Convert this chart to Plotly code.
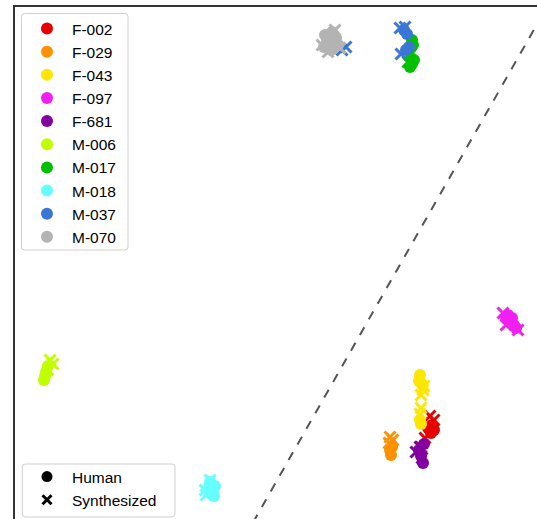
import plotly.graph_objects as go

speakers = ["F-002", "F-029", "F-043", "F-097", "F-681", "M-006", "M-017", "M-018", "M-037", "M-070"]
colors = ["#e60000", "#ff9100", "#ffe600", "#f020f0", "#8200a0", "#c0ff00", "#00c000", "#66ffff", "#3a76d6", "#b3b3b3"]

human_x = {
    "F-002": [83.6, 84.0, 83.4, 82.8],
    "F-029": [75.4, 75.2, 75.6],
    "F-043": [81.2, 81.0, 81.6, 81.4, 81.2],
    "F-097": [98.4, 99.2, 100.0, 99.6, 100.4, 98.8],
    "F-681": [81.8, 81.4, 82.0, 81.0],
    "M-006": [6.0, 6.4, 6.8, 6.2],
    "M-017": [79.6, 79.8, 79.4, 80.0, 79.2, 79.6],
    "M-018": [39.2, 40.2, 39.8, 38.8, 40.0],
    "M-037": [78.0, 78.6, 78.4, 79.0],
    "M-070": [62.2, 63.6, 63.2, 64.4, 62.0, 63.4, 64.8, 62.6],
}
human_y = {
    "F-002": [18.8, 17.8, 17.2, 18.2],
    "F-029": [12.8, 13.8, 14.4],
    "F-043": [28.8, 27.6, 27.0, 19.0, 19.8],
    "F-097": [40.2, 39.4, 38.8, 40.2, 38.2, 40.8],
    "F-681": [11.2, 12.6, 15.0, 13.8],
    "M-006": [27.8, 29.4, 30.6, 28.6],
    "M-017": [95.8, 94.8, 92.2, 91.8, 90.4, 91.0],
    "M-018": [7.4, 6.6, 5.4, 5.8, 4.6],
    "M-037": [97.8, 97.0, 93.8, 94.4],
    "M-070": [96.8, 97.4, 95.4, 96.2, 94.4, 93.8, 94.8, 95.8],
}
synth_x = {
    "F-002": [83.2, 82.2, 81.4, 84.0],
    "F-029": [75.2, 75.0, 75.8],
    "F-043": [81.8, 81.4, 81.4, 81.2, 82.0],
    "F-097": [97.8, 98.4, 100.8],
    "F-681": [80.4, 81.6, 81.2],
    "M-006": [7.2, 7.8, 6.8],
    "M-017": [79.2, 78.8],
    "M-018": [38.2, 38.4, 39.2],
    "M-037": [78.2, 77.2, 65.6, 66.4, 77.4],
    "M-070": [61.6, 64.2, 65.2, 62.8],
}
synth_y = {
    "F-002": [20.6, 16.2, 14.4, 19.8],
    "F-029": [16.4, 15.2, 15.8],
    "F-043": [25.8, 24.8, 22.2, 21.0, 26.6],
    "F-097": [41.2, 38.8, 37.8],
    "F-681": [13.4, 12.2, 14.4],
    "M-006": [31.8, 31.0, 29.8],
    "M-017": [92.8, 91.4],
    "M-018": [5.8, 4.8, 7.8],
    "M-037": [98.4, 98.2, 93.8, 94.4, 93.0],
    "M-070": [94.8, 97.8, 94.2, 93.4],
}

diag_x = [46.0, 108.0]
diag_y = [-3.86, 104.9]

FONT = "Liberation Sans, Arial, Helvetica, sans-serif"
FS = 15.5

fig = go.Figure()

fig.add_trace(go.Scatter(x=diag_x, y=diag_y, mode="lines",
                         line=dict(color="#555555", width=2, dash="dash"),
                         showlegend=False, hoverinfo="skip"))

for name, col in zip(speakers, colors):
    fig.add_trace(go.Scatter(x=synth_x[name], y=synth_y[name], mode="markers",
                             marker=dict(symbol="x-thin", size=11, color=col,
                                         line=dict(color=col, width=3)),
                             showlegend=False))
for name, col in zip(speakers, colors):
    fig.add_trace(go.Scatter(x=human_x[name], y=human_y[name], mode="markers",
                             marker=dict(symbol="circle", size=12, color=col),
                             name=name, legend="legend"))

fig.add_trace(go.Scatter(x=[None], y=[None], mode="markers",
                         marker=dict(symbol="circle", size=11, color="black"),
                         name="Human", legend="legend2"))
fig.add_trace(go.Scatter(x=[None], y=[None], mode="markers",
                         marker=dict(symbol="x-thin", size=9, color="black",
                                     line=dict(color="black", width=3)),
                         name="Synthesized", legend="legend2"))


def rounded_box(x0, y0, x1, y1, rx=0.00575, ry=0.00586):
    return (f"M {x0+rx},{y0} L {x1-rx},{y0} Q {x1},{y0} {x1},{y0+ry} "
            f"L {x1},{y1-ry} Q {x1},{y1} {x1-rx},{y1} "
            f"L {x0+rx},{y1} Q {x0},{y1} {x0},{y1-ry} "
            f"L {x0},{y0+ry} Q {x0},{y0} {x0+rx},{y0} Z")


for (bx0, by0, bx1, by1) in [(0.0125, 0.5254, 0.2165, 0.9873), (0.0140, 0.0039, 0.3065, 0.1074)]:
    fig.add_shape(type="path", xref="paper", yref="paper",
                  path=rounded_box(bx0, by0, bx1, by1),
                  fillcolor="white", line=dict(color="#d0d0d0", width=1), layer="above")

fig.update_layout(
    width=537, height=519,
    margin=dict(l=15, r=0, t=7, b=0),
    plot_bgcolor="white", paper_bgcolor="white",
    font=dict(family=FONT, size=FS, color="black"),
    xaxis=dict(range=[0.2, 104.6], showgrid=False, zeroline=False, showticklabels=False,
               ticks="", showline=True, side="top", linecolor="#333333", linewidth=1.5),
    yaxis=dict(range=[0, 102.4], showgrid=False, zeroline=False, showticklabels=False,
               ticks="", showline=True, linecolor="#333333", linewidth=1.5),
    legend=dict(x=0.0134, y=0.9904, xanchor="left", yanchor="top",
                bgcolor="rgba(0,0,0,0)", borderwidth=0,
                itemwidth=40,
                font=dict(family=FONT, size=FS), tracegroupgap=0),
    legend2=dict(x=0.0134, y=0.0039, xanchor="left", yanchor="bottom",
                 bgcolor="rgba(0,0,0,0)", borderwidth=0,
                 itemwidth=40,
                 font=dict(family=FONT, size=FS)),
)

fig.write_html("out.html",
               config={"displayModeBar": False},
               post_script="document.body.style.margin='0px';"
                           "document.documentElement.style.overflow='hidden';")
